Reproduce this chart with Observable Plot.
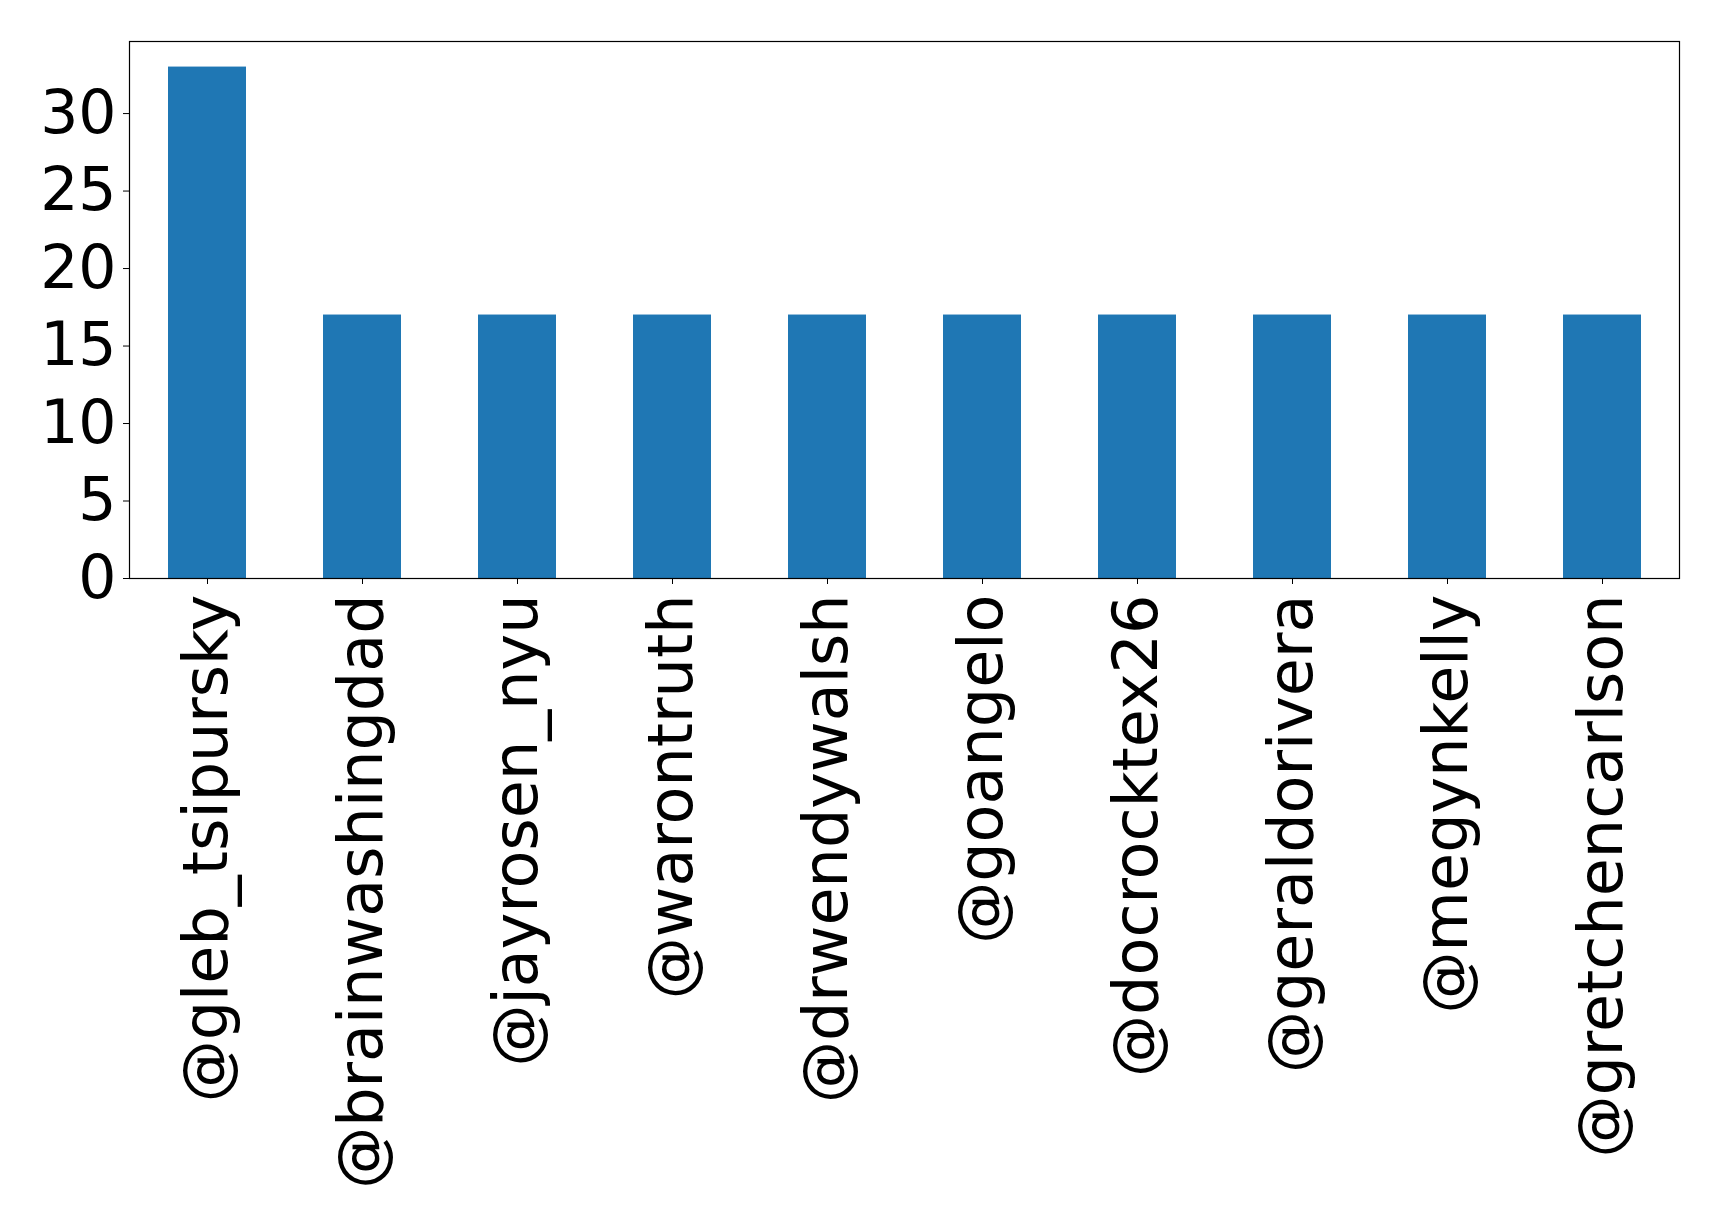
<!DOCTYPE html>
<html>
<head>
<meta charset="utf-8">
<script src="https://cdn.jsdelivr.net/npm/d3@7"></script>
<script src="https://cdn.jsdelivr.net/npm/@observablehq/plot@0.6"></script>
<style>
  html, body { margin: 0; padding: 0; background: #fff; }
  #chart svg { display: block; }
</style>
</head>
<body>
<div id="chart"></div>
<script>
// Mention counts per account
const accounts = [
  "@gleb_tsipursky", "@brainwashingdad", "@jayrosen_nyu", "@warontruth",
  "@drwendywalsh", "@goangelo", "@docrocktex26", "@geraldorivera",
  "@megynkelly", "@gretchencarlson"
];
const counts = [33, 17, 17, 17, 17, 17, 17, 17, 17, 17];
const yTicks = [0, 5, 10, 15, 20, 25, 30];

const data = accounts.map((name, i) => ({name, count: counts[i]}));

const chart = Plot.plot({
  width: 1719,
  height: 1227,
  marginLeft: 129,
  marginRight: 40,
  marginTop: 41,
  marginBottom: 649,
  style: {fontFamily: "DejaVu Sans", background: "#fff", color: "#000"},
  x: {domain: accounts, paddingInner: 0.5, paddingOuter: 0.25, label: null},
  y: {domain: [0, 34.65], label: null},
  marks: [
    Plot.barY(data, {x: "name", y: "count", fill: "#1f77b4"}),
    Plot.axisY({ticks: yTicks, tickSize: 6, tickPadding: 7, fontSize: 60, label: null}),
    Plot.axisX({tickSize: 6, tickPadding: 10, tickRotate: -90, fontSize: 62, label: null}),
    Plot.frame({stroke: "#000", strokeWidth: 1.2})
  ]
});

document.getElementById("chart").appendChild(chart);
</script>
</body>
</html>
